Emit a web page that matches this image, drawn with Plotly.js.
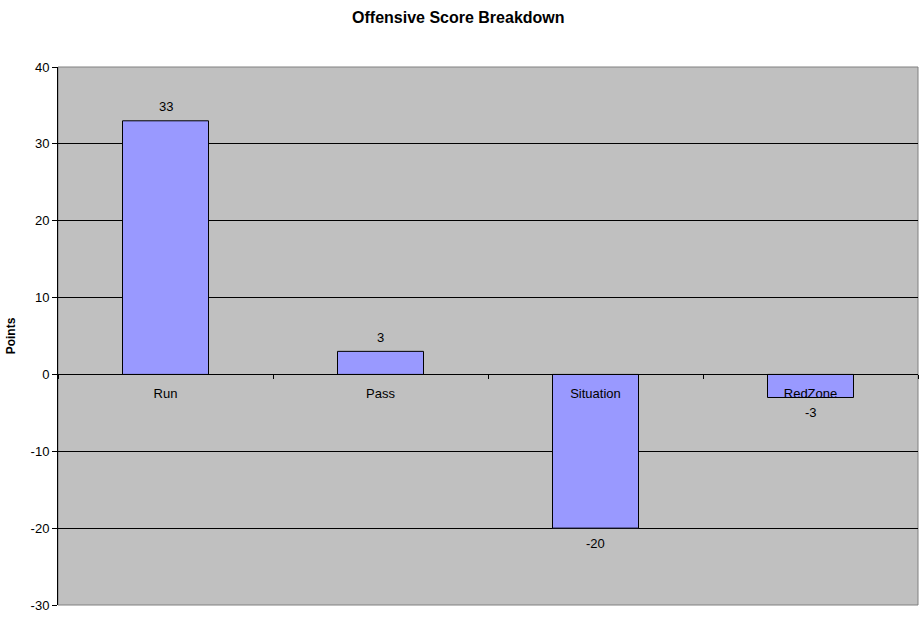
<!DOCTYPE html>
<html>
<head>
<meta charset="utf-8">
<script src="https://cdn.plot.ly/plotly-3.0.1.min.js"></script>
<style>html,body{margin:0;padding:0;background:#fff;}#chart{width:924px;height:625px;}</style>
</head>
<body>
<div id="chart"></div>
<script>
const categories = ["Run", "Pass", "Situation", "RedZone"];
const points = [33, 3, -20, -3];
const yTicks = [-30, -20, -10, 0, 10, 20, 30, 40];

const font = "Liberation Sans, Arial, sans-serif";

const trace = {
  type: "bar",
  x: categories,
  y: points,
  width: 0.4,
  marker: { color: "#9999FF", line: { color: "#000000", width: 1 } },
  cliponaxis: false,
  hoverinfo: "x+y"
};

const valueLabels = categories.map((c, i) => ({
  x: c, y: points[i], xref: "x", yref: "y",
  text: String(points[i]), showarrow: false,
  yanchor: "middle", xanchor: "center",
  yshift: points[i] >= 0 ? 14 : -15,
  font: { family: font, size: 13, color: "#000" }
}));

const layout = {
  width: 924,
  height: 625,
  margin: { l: 58, r: 6, t: 67, b: 20, pad: 0 },
  paper_bgcolor: "#ffffff",
  plot_bgcolor: "#C0C0C0",
  showlegend: false,
  bargap: 0.6,
  title: {
    text: "<b>Offensive Score Breakdown</b>",
    font: { family: font, size: 16, color: "#000" },
    x: 0.496, xanchor: "center", y: 0.972, yanchor: "middle"
  },
  xaxis: {
    type: "category",
    anchor: "free",
    position: 30 / 70,
    showline: true, linecolor: "#000", linewidth: 1,
    ticks: "outside", ticklen: 4, tickcolor: "#000", tickson: "boundaries",
    ticklabelstandoff: 7,
    showgrid: false, zeroline: false,
    tickfont: { family: font, size: 13, color: "#000" },
    fixedrange: true
  },
  yaxis: {
    range: [-30, 40],
    tickvals: yTicks,
    ticktext: yTicks.map(String),
    showline: true, linecolor: "#000", linewidth: 1,
    ticks: "outside", ticklen: 5, tickcolor: "#000",
    showgrid: true, gridcolor: "#000", gridwidth: 1,
    zeroline: true, zerolinecolor: "#000", zerolinewidth: 1,
    tickfont: { family: font, size: 13, color: "#000" },
    title: { text: "<b>Points</b>", font: { family: font, size: 12, color: "#000" }, standoff: 12 },
    fixedrange: true
  },
  annotations: valueLabels,
  shapes: [{
    type: "rect", xref: "paper", yref: "paper", x0: 0, x1: 1, y0: 0, y1: 1,
    line: { color: "#808080", width: 1 }, fillcolor: "rgba(0,0,0,0)", layer: "below"
  }]
};

Plotly.newPlot("chart", [trace], layout, { displayModeBar: false, staticPlot: true });
</script>
</body>
</html>
